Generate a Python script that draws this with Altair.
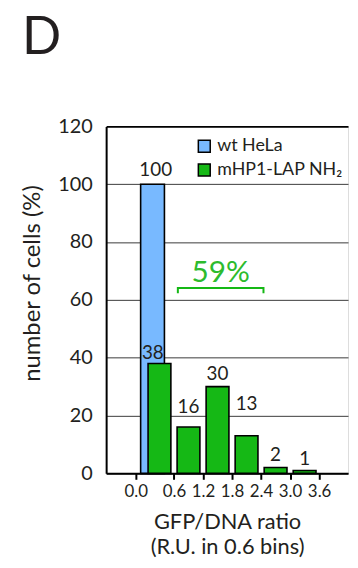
import altair as alt
import pandas as pd

# ---- data ----
bin_centers = [0.3, 0.9, 1.5, 2.1, 2.7, 3.3]
lap_values = [38, 16, 30, 13, 2, 1]
wt_bins = [0.3]
wt_values = [100]
series_names = ["wt HeLa", "mHP1-LAP NH\u2082"]
series_colors = ["#78b9ff", "#15b815"]
x_tick_values = [-0.19, 0.6, 1.2, 1.8, 2.4, 3.0, 3.6]
x_tick_labels = ["0.0", "0.6", "1.2", "1.8", "2.4", "3.0", "3.6"]
y_tick_values = [0, 20, 40, 60, 80, 100, 120]
bracket_bins = [0.68, 2.45]
bracket_level = 64.1
bracket_tip = 62.3
label_lift = [8, 5, 14, 7, 26, 7, 6]      # pixel lift of each value label
label_shift = [-4, -7, 0, 0, 0, 0, 0]     # pixel shift of each value label

FONT = "Lato"
INK = "#231f20"
GREEN_TXT = "#2dbb2d"
W, H = 244, 350
X_DOM = [-0.7, 4.095]
Y_DOM = [0, 120]

wt_df = pd.DataFrame({"bin": wt_bins, "pct": wt_values, "series": series_names[0]})
lap_df = pd.DataFrame({"bin": bin_centers, "pct": lap_values, "series": series_names[1]})
lab_df = pd.DataFrame({
    "bin": wt_bins + bin_centers,
    "pct": wt_values + lap_values,
    "lift": label_lift,
    "shift": label_shift,
})
lab_df["txt"] = lab_df["pct"].astype(str)
br_df = pd.DataFrame({
    "bin": [bracket_bins[0], bracket_bins[0], bracket_bins[1], bracket_bins[1]],
    "pct": [bracket_tip, bracket_level, bracket_level, bracket_tip],
    "order": [0, 1, 2, 3],
})
pct_total = sum(lap_values[1:4])
txt_df = pd.DataFrame({"bin": [sum(bracket_bins) / 2], "pct": [bracket_level + 2], "txt": [f"{pct_total}%"]})

label_expr = "".join(
    f"abs(datum.value - ({v})) < 0.01 ? '{l}' : " for v, l in zip(x_tick_values, x_tick_labels)
) + "''"

x_scale = alt.Scale(domain=X_DOM, nice=False, zero=False)
y_scale = alt.Scale(domain=Y_DOM, nice=False)

x_axis = alt.Axis(
    values=x_tick_values, labelExpr=label_expr, title=["GFP/DNA ratio", "(R.U. in 0.6 bins)"],
    grid=False, ticks=True, tickSize=6, tickWidth=2, tickColor="black",
    domainColor="black", domainWidth=2, labelFontSize=17, labelFont=FONT, labelColor=INK,
    labelPadding=4, titleFontSize=22, titleFont=FONT, titleFontWeight="normal", titleColor=INK,
    titlePadding=13, titleLineHeight=25,
)
y_axis = alt.Axis(
    values=y_tick_values, title="number of cells (%)", grid=True,
    gridColor={"condition": {"test": "datum.value >= 120", "value": "black"}, "value": "#3a3a3a"},
    gridWidth={"condition": {"test": "datum.value >= 120", "value": 2}, "value": 1},
    ticks=False, domainColor="black", domainWidth=2, labelFontSize=20, labelFont=FONT, labelColor=INK,
    labelPadding=14, titleFontSize=24, titleFont=FONT, titleFontWeight="normal", titleColor=INK,
    titlePadding=13, titleY=158,
)

color = alt.Color(
    "series:N",
    scale=alt.Scale(domain=series_names, range=series_colors),
    legend=alt.Legend(
        title=None, orient="none", legendX=90, legendY=11, symbolType="square", symbolSize=144,
        symbolStrokeColor="black", symbolStrokeWidth=1.5, labelFontSize=18, labelFont=FONT,
        labelColor=INK, labelOffset=4, rowPadding=6, labelLimit=200,
    ),
)

wt_bars = alt.Chart(wt_df).mark_bar(size=24, xOffset=-7, stroke="black", strokeWidth=1.6).encode(
    x=alt.X("bin:Q", scale=x_scale, axis=x_axis),
    y=alt.Y("pct:Q", scale=y_scale, axis=y_axis),
    color=color,
)
lap_bars = alt.Chart(lap_df).mark_bar(size=23, stroke="black", strokeWidth=1.6).encode(
    x=alt.X("bin:Q", scale=x_scale),
    y=alt.Y("pct:Q", scale=y_scale),
    color=color,
)
px_x = (X_DOM[1] - X_DOM[0]) / W
px_y = (Y_DOM[1] - Y_DOM[0]) / H
labels = alt.Chart(lab_df).transform_calculate(
    lx=f"datum.bin + datum.shift * {px_x}",
    ly=f"datum.pct + datum.lift * {px_y}",
).mark_text(fontSize=19, font=FONT, color=INK, baseline="alphabetic").encode(
    x=alt.X("lx:Q", scale=x_scale),
    y=alt.Y("ly:Q", scale=y_scale),
    text="txt:N",
)
bracket = alt.Chart(br_df).mark_line(color=series_colors[1], strokeWidth=2).encode(
    x=alt.X("bin:Q", scale=x_scale),
    y=alt.Y("pct:Q", scale=y_scale),
    order="order:O",
)
pct_text = alt.Chart(txt_df).mark_text(fontSize=30, font=FONT, color=GREEN_TXT, baseline="alphabetic").encode(
    x=alt.X("bin:Q", scale=x_scale),
    y=alt.Y("pct:Q", scale=y_scale),
    text="txt:N",
)

chart = alt.layer(wt_bars, lap_bars, labels, bracket, pct_text).properties(
    width=W, height=H,
    autosize=alt.AutoSizeParams(type="none"),
    padding={"left": 99, "top": 117, "right": 2, "bottom": 85},
    title=alt.TitleParams(
        text="D", anchor="start", frame="group", fontSize=52, font=FONT, fontWeight="normal",
        color=INK, dx=-85, offset=52,
    ),
).configure_view(stroke="black", strokeWidth=2).configure(background="white")

chart.save("out.html", embed_options={"renderer": "svg", "actions": False})
